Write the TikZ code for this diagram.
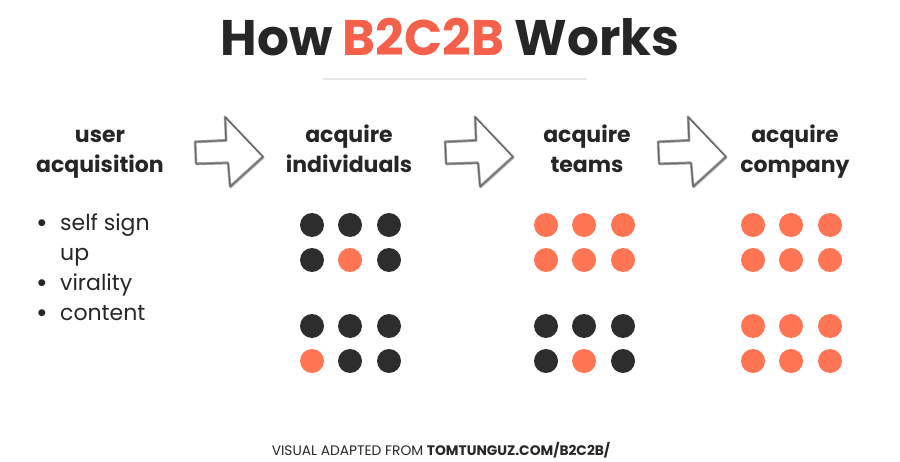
\documentclass[tikz,border=0pt]{standalone}
\usepackage{fontspec}
\setmainfont{Poppins}
\usepackage{tikz}
\usetikzlibrary{positioning}

\definecolor{inkdark}{HTML}{262626}
\definecolor{titlered}{HTML}{F5604A}
\definecolor{dotdark}{HTML}{2D2D2D}
\definecolor{dotred}{HTML}{FF7452}
\definecolor{rulegray}{HTML}{E6E6E6}
\definecolor{pencil}{HTML}{5A5A5A}

% hand drawn block arrow, #1 = horizontal shift
\newcommand\sketcharrow[1]{%
  \foreach \dx/\dy/\op in {0/0/0.85, 0.9/-0.7/0.5, -0.7/0.8/0.45, 0.4/1.1/0.3}{
    \draw[pencil, line width=1.2pt, line join=round, opacity=\op, xshift=#1pt+\dx pt, yshift=\dy pt]
      (195,142) -- (226,140.5) -- (225,117) -- (263,157) -- (230,187) -- (228,163) -- (196,164) -- cycle;
  }
}
% list bullet
\newcommand\bul{\makebox[24pt][l]{\raisebox{-1.5pt}{\fontsize{28}{28}\selectfont•}}}

\begin{document}
\begin{tikzpicture}[x=1pt, y=-1pt,
  every node/.style={inner sep=0pt, text=inkdark},
  head/.style={font=\bfseries\fontsize{22}{30}\selectfont, align=center, anchor=base},
  dot/.style={circle, minimum size=24pt, draw=none}]
	\useasboundingbox (0,0) rectangle (900,462);
	\node[font=\bfseries\fontsize{50}{56}\selectfont, anchor=base] (title) at (450,56) {How \textcolor{titlered}{B2C2B} Works};
	\draw[rulegray, line width=1.5pt] (323,79) -- (587,79);
	% column headings (anchor base = last line)
	\node[head] (user) at (100,173) {user\\acquisition};
	\node[head] (indiv) at (349,173) {acquire\\individuals};
	\node[head] (teams) at (587,173) {acquire\\teams};
	\node[head] (company) at (795,173) {acquire\\company};
	% arrows between the headings
	\sketcharrow{0}
	\sketcharrow{250}
	\sketcharrow{463}
	% channels
	\node[font=\fontsize{22}{30}\selectfont, align=left, anchor=base west] (channels) at (36,321)
		{\bul self sign\\\makebox[24pt]{}up\\\bul virality\\\bul content};
	% dot grids
	\foreach \gx/\y/\a/\b/\c in {312/225/dotdark/dotdark/dotdark, 312/260/dotdark/dotred/dotdark,
	    312/326/dotdark/dotdark/dotdark, 312/361/dotred/dotdark/dotdark,
	    546/225/dotred/dotred/dotred, 546/260/dotred/dotred/dotred,
	    546/326/dotdark/dotdark/dotdark, 546/361/dotdark/dotred/dotdark,
	    753/225/dotred/dotred/dotred, 753/260/dotred/dotred/dotred,
	    753/326/dotred/dotred/dotred, 753/361/dotred/dotred/dotred}{
		\node[dot, fill=\a] (d\gx-\y-1) at (\gx,\y) {};
		\node[dot, fill=\b] (d\gx-\y-2) at (\gx+38,\y) {};
		\node[dot, fill=\c] (d\gx-\y-3) at (\gx+77,\y) {};
	}
	\node[font=\fontsize{13.8}{16}\selectfont, anchor=base] (credit) at (441,455)
		{VISUAL ADAPTED FROM \textbf{TOMTUNGUZ.COM/B2C2B/}};
\end{tikzpicture}
\end{document}
